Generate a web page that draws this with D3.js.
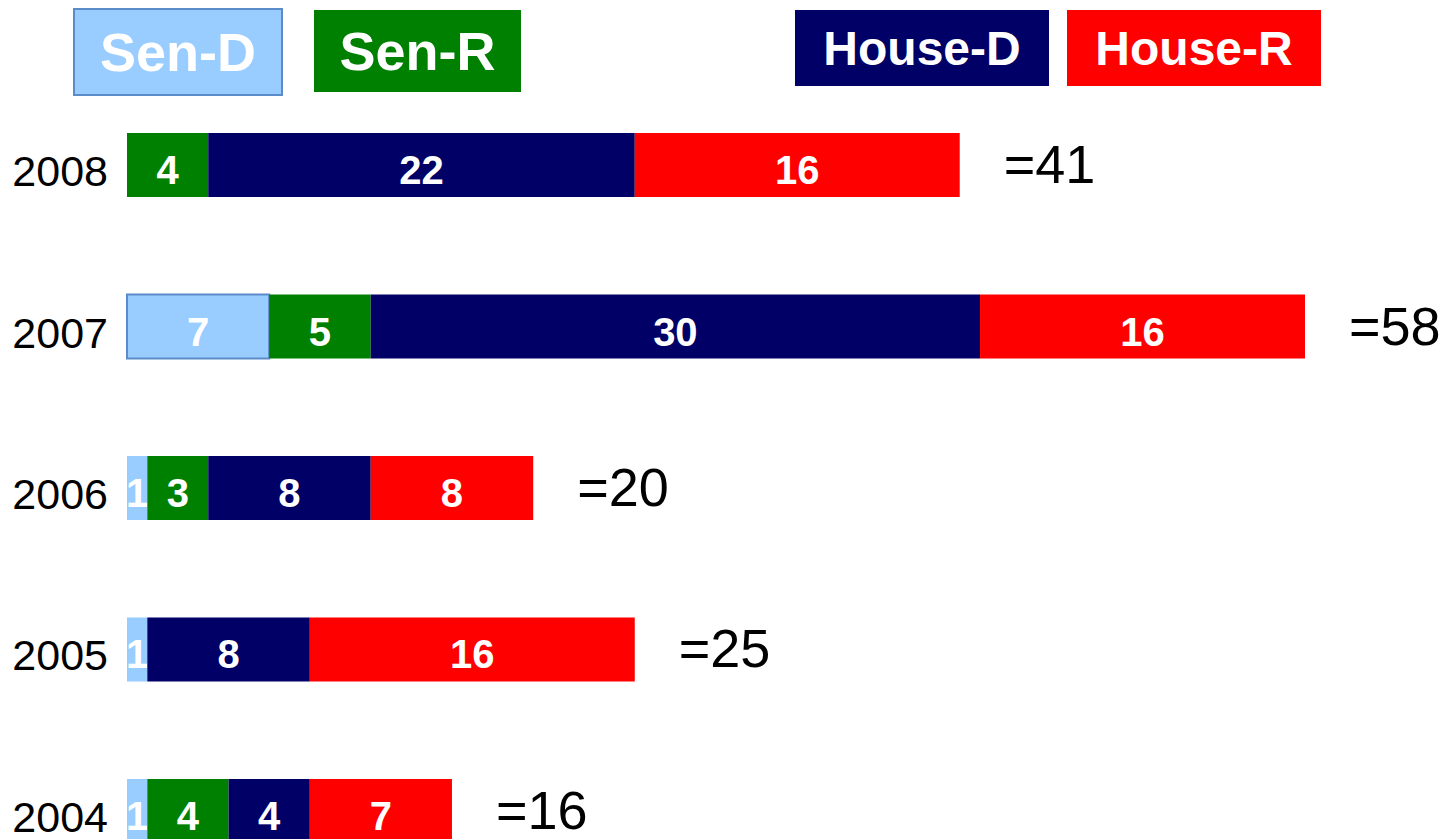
<!DOCTYPE html>
<head>
    <meta charset="utf-8">
    <style>
        body { margin: 0; background: #fff; }
        text { font-family: "Liberation Sans", Arial, sans-serif; }
        .year { font-size: 43px; fill: #000; }
        .total { font-size: 54px; fill: #000; }
        .val { font-size: 40px; font-weight: bold; fill: #fff; }
        .leg { font-weight: bold; fill: #fff; }
    </style>
</head>
<svg width="1443" height="839" class="bar-chart"></svg>
<script src="https://cdn.jsdelivr.net/npm/d3@7"></script>
<script>
    const years = ["2008", "2007", "2006", "2005", "2004"];
    const senD = [0, 7, 1, 1, 1];
    const senR = [4, 5, 3, 0, 4];
    const houseD = [21, 30, 8, 8, 4];
    const houseDLabels = ["22", "30", "8", "8", "4"];   // label on 2008 reads 22
    const houseR = [16, 16, 8, 16, 7];
    const totals = [41, 58, 20, 25, 16];
    const seriesNames = ["Sen-D", "Sen-R", "House-D", "House-R"];

    const colors = {"Sen-D": "#99ccff", "Sen-R": "#008000", "House-D": "#000066", "House-R": "#ff0000"};

    var svg = d3.select(".bar-chart");

    var x = d3.scaleLinear().domain([0, 58]).range([127, 1305]);
    var y = d3.scaleBand().domain(years).range([133, 843]).paddingInner(0.6037).paddingOuter(0).align(0);
    var barH = y.bandwidth();

    // stack the segments
    var rows = years.map(function(yr, i) {
        var vals = [senD[i], senR[i], houseD[i], houseR[i]];
        var labels = [String(senD[i]), String(senR[i]), houseDLabels[i], String(houseR[i])];
        var acc = 0, segs = [];
        vals.forEach(function(v, k) {
            if (v > 0) segs.push({name: seriesNames[k], x0: acc, x1: acc + v, label: labels[k], year: yr});
            acc += v;
        });
        return {year: yr, segs: segs, total: totals[i]};
    });

    var g = svg.append("g");

    var seg = g.selectAll(".seg")
        .data(rows.flatMap(function(r) { return r.segs; }))
        .enter().append("g").attr("class", "seg");

    seg.append("rect")
        .attr("x", function(d) { return x(d.x0); })
        .attr("y", function(d) { return y(d.year); })
        .attr("width", function(d) { return x(d.x1) - x(d.x0); })
        .attr("height", barH)
        .attr("fill", function(d) { return colors[d.name]; })
        .attr("stroke", function(d) { return d.name === "Sen-D" && d.x1 > 1 ? "#5b8bc9" : "none"; })
        .attr("stroke-width", 2);

    seg.append("text")
        .attr("class", "val")
        .attr("text-anchor", "middle")
        .attr("x", function(d) { return (x(d.x0) + x(d.x1)) / 2; })
        .attr("y", function(d) { return y(d.year) + barH / 2 + 19; })
        .text(function(d) { return d.label; });

    g.selectAll(".year")
        .data(rows).enter().append("text")
        .attr("class", "year")
        .attr("text-anchor", "end")
        .attr("x", 108)
        .attr("y", function(d) { return y(d.year) + barH / 2 + 21; })
        .text(function(d) { return d.year; });

    g.selectAll(".total")
        .data(rows).enter().append("text")
        .attr("class", "total")
        .attr("x", function(d) { return x(d.total) + 44; })
        .attr("y", function(d) { return y(d.year) + barH / 2 + 18; })
        .text(function(d) { return "=" + d.total; });

    // legend boxes
    var legend = [
        {name: "Sen-D", x: 74, y: 9, w: 208, h: 86, fs: 54},
        {name: "Sen-R", x: 314, y: 10, w: 207, h: 82, fs: 54},
        {name: "House-D", x: 795, y: 10, w: 254, h: 76, fs: 48},
        {name: "House-R", x: 1067, y: 10, w: 254, h: 76, fs: 48}
    ];
    var lg = svg.selectAll(".lg").data(legend).enter().append("g").attr("class", "lg");
    lg.append("rect")
        .attr("x", function(d) { return d.x; })
        .attr("y", function(d) { return d.y; })
        .attr("width", function(d) { return d.w; })
        .attr("height", function(d) { return d.h; })
        .attr("fill", function(d) { return colors[d.name]; })
        .attr("stroke", function(d) { return d.name === "Sen-D" ? "#5b8bc9" : "none"; })
        .attr("stroke-width", 2);
    lg.append("text")
        .attr("class", "leg")
        .attr("text-anchor", "middle")
        .attr("x", function(d) { return d.x + d.w / 2; })
        .attr("y", function(d) { return d.y + d.h / 2 + d.fs * 0.36; })
        .style("font-size", function(d) { return d.fs + "px"; })
        .text(function(d) { return d.name; });
</script>
